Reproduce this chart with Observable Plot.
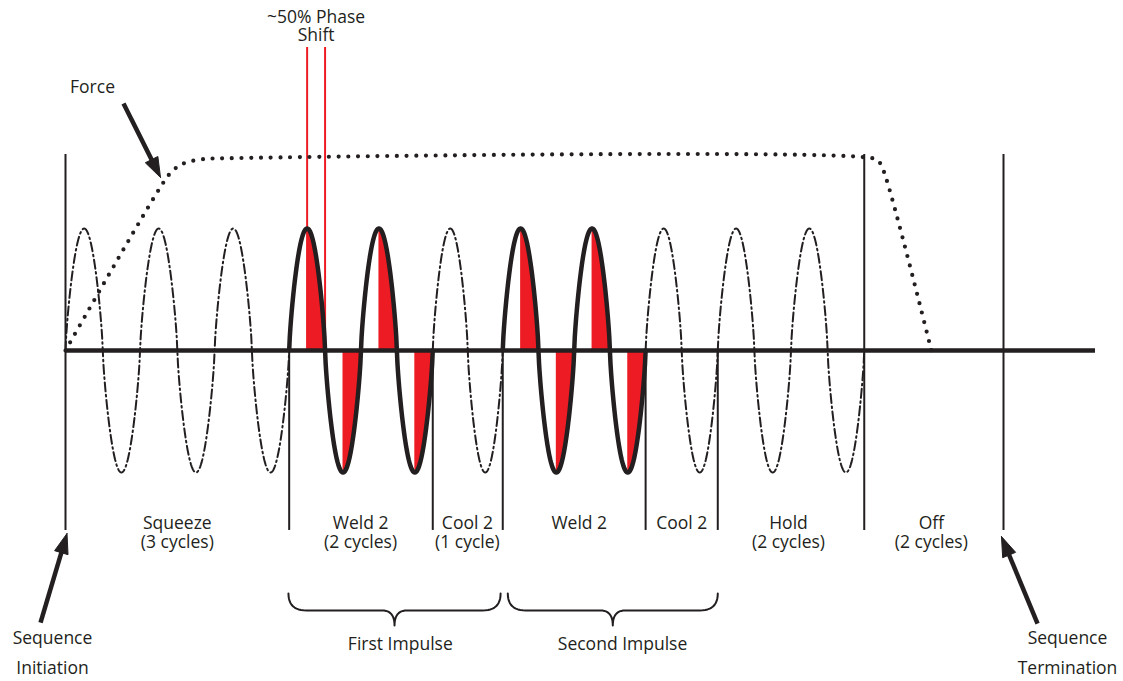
<!DOCTYPE html>
<html><head><meta charset="utf-8">
<script src="https://cdn.jsdelivr.net/npm/d3@7"></script>
<script src="https://cdn.jsdelivr.net/npm/@observablehq/plot@0.6"></script>
<style>body{margin:0;background:#fff}#chart svg{display:block}</style>
</head><body><div id="chart"></div>
<script>
// ---- Data (time in cycles, amplitude in units of the wave peak) ----
const segNames   = ["Squeeze", "Weld 2", "Cool 2", "Weld 2", "Cool 2", "Hold", "Off"];
const segSubs    = ["(3 cycles)", "(2 cycles)", "(1 cycle)", "", "", "(2 cycles)", "(2 cycles)"];
const segCycles  = [3, 2, 1, 2, 1, 2, 2];
const segStarts  = [0, 3.10, 5.09, 6.06, 8.04, 9.04, 11.07];
const segEnds    = [3.10, 5.09, 6.06, 8.04, 9.04, 11.07, 13.0];
const segWave    = ["dashdot", "solid", "dashdot", "solid", "dashdot", "dashdot", "none"];
const segLabelX  = [1.55, 4.09, 5.57, 7.12, 8.54, 10.02, 12.0];

const fullBoundaries  = [0, 11.07, 13.0];
const shortBoundaries = [3.10, 5.09, 6.06, 8.04, 9.04];

// conduction starts at 50% of each half cycle (phase shift)
const phaseStart = 0.5;

// Force profile
const forceX = [0, 1.36, 1.48, 1.59, 1.73, 1.94, 2.15, 11.19, 11.27, 11.34, 12.0];
const forceY = [0, 1.38, 1.47, 1.52, 1.55, 1.57, 1.575, 1.575, 1.55, 1.47, 0];

// Impulse braces
const impulseNames  = ["First Impulse", "Second Impulse"];
const impulseStarts = [3.09, 6.13];
const impulseEnds   = [6.03, 9.04];
const impulseLabelX = [4.64, 7.72];

// Annotation arrows (start -> tip)
const arrowX1 = [0.804, -0.346, 13.472];
const arrowY1 = [2.025, -2.230, -2.238];
const arrowX2 = [1.317, 0.021, 12.972];
const arrowY2 = [1.418, -1.500, -1.525];

// ---- Layout ----
const W = 1123, H = 681;
const X0 = 65, PXC = 72.154, Y0 = 350, PXU = 122;
const INK = "#231f20", RED = "#ed1c24";
const FONT = "Open Sans";
const toPx = (x, y) => [X0 + x * PXC, Y0 - y * PXU];
const toU  = (px, py) => [(px - X0) / PXC, (Y0 - py) / PXU];
// drawn wave shape (slightly rounded sine lobes as in the drawing)
const wave = t => { const s = Math.sin(2 * Math.PI * t); return Math.sign(s) * Math.pow(Math.abs(s), 0.75); };

// ---- Derived geometry ----
const dashPts = [], solidPts = [], redPts = [];
segStarts.forEach((s, i) => {
  if (segWave[i] === "none") return;
  const e = segEnds[i], n = segCycles[i], N = 120 * n;
  const arr = segWave[i] === "solid" ? solidPts : dashPts;
  for (let k = 0; k <= N; k++) {
    const t = k / N * n;
    arr.push({seg: i, x: s + (e - s) * t / n, y: wave(t)});
  }
  if (segWave[i] === "solid") {
    for (let c = 0; c < n; c++) for (let h = 0; h < 2; h++) {
      const t0 = c + h * 0.5 + phaseStart * 0.5, t1 = c + h * 0.5 + 0.5;
      for (let k = 0; k <= 40; k++) {
        const t = t0 + (t1 - t0) * k / 40;
        redPts.push({lobe: `${i}-${c}-${h}`, x: s + (e - s) * t / n, y: wave(t)});
      }
    }
  }
});
const firstWeld = segWave.indexOf("solid");
const fwCycle = (segEnds[firstWeld] - segStarts[firstWeld]) / segCycles[firstWeld];
const phaseLines = [segStarts[firstWeld] + fwCycle * 0.5 * phaseStart, segStarts[firstWeld] + fwCycle * 0.5];

const force = forceX.map((x, i) => ({x, y: forceY[i]}));

// braces
const braceTop = -1.992, braceFlat = -2.131, braceTip = -2.254, braceR = 0.25;
const bracePts = [];
function quad(p0, p1, p2, id) {
  for (let k = 0; k <= 12; k++) {
    const t = k / 12, a = (1 - t) * (1 - t), b = 2 * (1 - t) * t, c = t * t;
    bracePts.push({id, x: a * p0[0] + b * p1[0] + c * p2[0], y: a * p0[1] + b * p1[1] + c * p2[1]});
  }
}
impulseStarts.forEach((s, i) => {
  const e = impulseEnds[i], m = (s + e) / 2, r2 = 0.17;
  quad([s, braceTop], [s, braceFlat], [s + braceR, braceFlat], i);
  quad([m - r2, braceFlat], [m, braceFlat], [m, braceTip], i);
  quad([m, braceTip], [m, braceFlat], [m + r2, braceFlat], i);
  quad([e - braceR, braceFlat], [e, braceFlat], [e, braceTop], i);
});

// arrows
const shafts = [], heads = [];
arrowX1.forEach((x1, i) => {
  const [sx, sy] = toPx(x1, arrowY1[i]), [tx, ty] = toPx(arrowX2[i], arrowY2[i]);
  const len = Math.hypot(tx - sx, ty - sy), dx = (tx - sx) / len, dy = (ty - sy) / len;
  const L = 20, hw = 7;
  const bx = tx - L * dx, by = ty - L * dy, nx = -dy, ny = dx;
  const [ex, ey] = toU(bx + 3 * dx, by + 3 * dy);
  shafts.push({x1, y1: arrowY1[i], x2: ex, y2: ey});
  [[tx, ty], [bx + hw * nx, by + hw * ny], [bx - hw * nx, by - hw * ny], [tx, ty]].forEach(([px, py]) => {
    const [ux, uy] = toU(px, py);
    heads.push({id: i, x: ux, y: uy});
  });
});

const row1 = segNames.map((n, i) => ({x: segLabelX[i], text: n}));
const row2 = segSubs.map((n, i) => ({x: segLabelX[i], text: n})).filter(d => d.text);
const impLabels = impulseNames.map((n, i) => ({x: impulseLabelX[i], text: n}));
const seqX = [toU(52, 0)[0], toU(1067, 0)[0]];
const seqRow1 = [{x: seqX[0], text: "Sequence"}, {x: seqX[1], text: "Sequence"}];
const seqRow2 = [{x: seqX[0], text: "Initiation"}, {x: seqX[1], text: "Termination"}];

const txt = {fontFamily: FONT, fontSize: 17.5, fill: INK, textAnchor: "middle", lineAnchor: "top"};

const chart = Plot.plot({
  width: W, height: H,
  marginTop: 0, marginRight: 0, marginBottom: 0, marginLeft: 0,
  x: {domain: [0, 13], range: [X0, X0 + 13 * PXC], axis: null},
  y: {domain: [-1, 1], range: [Y0 + PXU, Y0 - PXU], axis: null},
  style: {background: "#fff"},
  marks: [
    Plot.ruleX(fullBoundaries, {y1: -1.475, y2: 1.607, stroke: INK, strokeWidth: 2}),
    Plot.ruleX(shortBoundaries, {y1: -1.475, y2: 0, stroke: INK, strokeWidth: 2}),
    Plot.ruleX(phaseLines, {y1: 0, y2: 2.484, stroke: RED, strokeWidth: 2}),
    Plot.areaY(redPts, {x: "x", y1: 0, y2: "y", z: "lobe", fill: RED}),
    Plot.line(dashPts, {x: "x", y: "y", z: "seg", stroke: INK, strokeWidth: 2, strokeDasharray: "9,3.5,1.6,3.5"}),
    Plot.line(solidPts, {x: "x", y: "y", z: "seg", stroke: INK, strokeWidth: 4.5}),
    Plot.ruleY([0], {x1: 0, x2: toU(1095, 0)[0], stroke: INK, strokeWidth: 4.5}),
    Plot.line(force, {x: "x", y: "y", curve: "catmull-rom", stroke: INK, strokeWidth: 4.2, strokeDasharray: "0,9.7", strokeLinecap: "round"}),
    Plot.line(bracePts, {x: "x", y: "y", z: "id", stroke: INK, strokeWidth: 2}),
    Plot.link(shafts, {x1: "x1", y1: "y1", x2: "x2", y2: "y2", stroke: INK, strokeWidth: 4.5}),
    Plot.line(heads, {x: "x", y: "y", z: "id", fill: INK, stroke: INK, strokeWidth: 1}),
    Plot.text(row1, {x: "x", y: -1.36, text: "text", ...txt}),
    Plot.text(row2, {x: "x", y: -1.52, text: "text", ...txt}),
    Plot.text(impLabels, {x: "x", y: -2.357, text: "text", ...txt}),
    Plot.text(seqRow1, {x: "x", y: -2.307, text: "text", ...txt}),
    Plot.text(seqRow2, {x: "x", y: -2.552, text: "text", ...txt}),
    Plot.text(["Force"], {x: toU(92, 0)[0], y: 2.216, text: d => d, ...txt}),
    Plot.text(["~50% Phase"], {x: (phaseLines[0] + phaseLines[1]) / 2, y: 2.784, text: d => d, ...txt}),
    Plot.text(["Shift"], {x: (phaseLines[0] + phaseLines[1]) / 2, y: 2.64, text: d => d, ...txt})
  ]
});
document.getElementById("chart").appendChild(chart);
</script>
</body></html>
